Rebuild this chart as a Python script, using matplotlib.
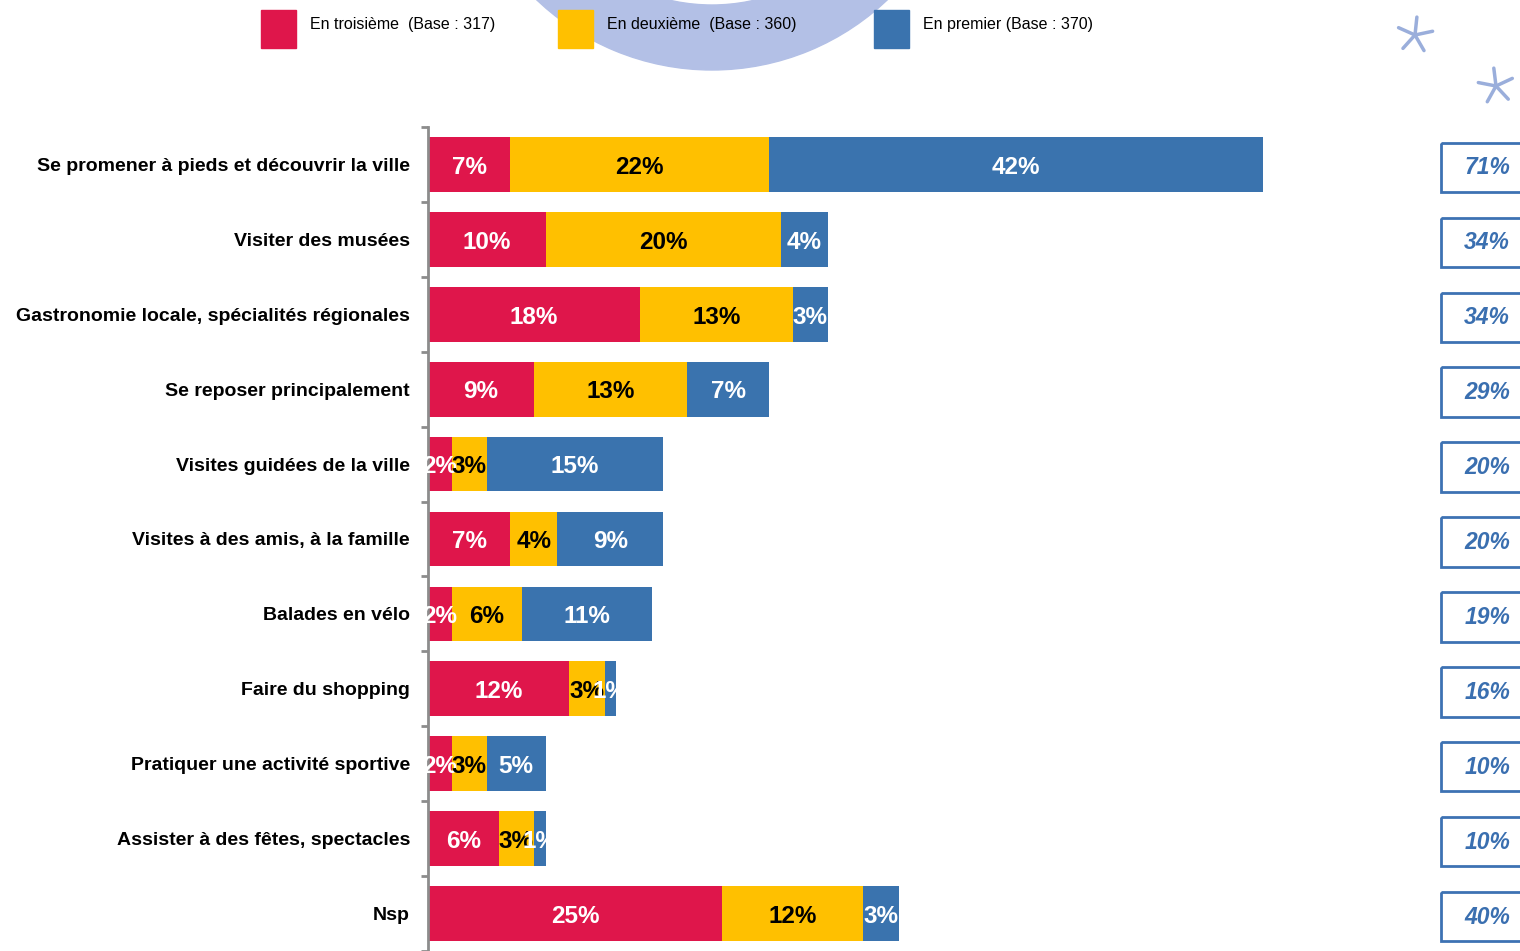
import matplotlib.pyplot as plt
import numpy as np
from matplotlib.patches import Rectangle, Wedge
from matplotlib.transforms import blended_transform_factory

plt.rcParams['font.family'] = ['Liberation Sans', 'DejaVu Sans']

categories = [
    'Se promener à pieds et découvrir la ville',
    'Visiter des musées',
    'Gastronomie locale, spécialités régionales',
    'Se reposer principalement',
    'Visites guidées de la ville',
    'Visites à des amis, à la famille',
    'Balades en vélo',
    'Faire du shopping',
    'Pratiquer une activité sportive',
    'Assister à des fêtes, spectacles',
    'Nsp',
]
troisieme = [7, 10, 18, 9, 2, 7, 2, 12, 2, 6, 25]
deuxieme = [22, 20, 13, 13, 3, 4, 6, 3, 3, 3, 12]
premier = [42, 4, 3, 7, 15, 9, 11, 1, 5, 1, 3]
totals = [71, 34, 34, 29, 20, 20, 19, 16, 10, 10, 40]
series_labels = ['En troisième  (Base : 317)', 'En deuxième  (Base : 360)', 'En premier (Base : 370)']

colors = ['#DF164B', '#FFC000', '#3A73AE']
text_colors = ['white', 'black', 'white']
W, H = 1520, 951

fig = plt.figure(figsize=(W / 100, H / 100), dpi=100)

# background layer in pixel units (logo ring, stars, legend)
bg = fig.add_axes([0, 0, 1, 1], zorder=0)
bg.set_xlim(0, W)
bg.set_ylim(H, 0)
bg.axis('off')
bg.add_patch(Wedge((712, -184), 254, 0, 360, width=65, color='#B3C0E6', zorder=0))
for cx, cy, rot in [(1415, 35, 12), (1496, 86, 25)]:
    for k in range(5):
        a = np.radians(rot + 72 * k)
        bg.plot([cx, cx + 18 * np.cos(a)], [cy, cy - 18 * np.sin(a)],
                color='#9AAEDB', lw=2.5, solid_capstyle='round', zorder=1)

for x, lab, c in zip([261, 558, 874], series_labels, colors):
    bg.add_patch(Rectangle((x, 10), 35, 38, color=c, zorder=3))
    bg.text(x + 49, 24.5, lab, fontsize=11.5, va='center', zorder=3)

# main chart
ax = fig.add_axes([428 / W, 0, 1 - 428 / W, 1 - 127 / H], zorder=1)
ax.patch.set_alpha(0)
y = np.arange(len(categories))
left = np.zeros(len(categories))
for k, (vals, c, tc) in enumerate(zip([troisieme, deuxieme, premier], colors, text_colors)):
    ax.barh(y, vals, left=left, height=0.73, color=c, zorder=2)
    for i, v in enumerate(vals):
        ax.annotate(f'{v}%', (left[i] + v / 2, i), xytext=(0, -2), textcoords='offset points',
                    ha='center', va='center', color=tc, fontsize=17.5, fontweight='bold',
                    zorder=3 + k)
    left += np.array(vals)

ax.set_xlim(0, 92.8)
ax.set_ylim((H - 127.3) / 75.4 - 0.5, -0.5)
ax.set_xticks([])
for s in ['top', 'right', 'bottom']:
    ax.spines[s].set_visible(False)
ax.spines['left'].set_color('#8C8C8C')
ax.spines['left'].set_linewidth(2)
ax.set_yticks(y)
ax.set_yticklabels(categories, fontsize=14, fontweight='bold')
ax.tick_params(axis='y', which='major', length=0, pad=13)
ax.set_yticks(np.arange(-0.5, len(categories), 1), minor=True)
ax.tick_params(axis='y', which='minor', length=5, width=2, color='#8C8C8C')

# totals boxes on the right
tr = blended_transform_factory(ax.transAxes, ax.transData)
for i, t in enumerate(totals):
    ax.add_patch(Rectangle((0.928, i - 0.29), 0.1, 0.66, transform=tr, fill=False,
                           edgecolor='#3D72B3', lw=2, clip_on=False))
    ax.annotate(f'{t}%', (0.970, i), xycoords=tr, xytext=(0, -2.5), textcoords='offset points',
                ha='center', va='center', fontsize=16.5, fontweight='bold', style='italic',
                color='#3A6FB0')

fig.savefig('out.png', dpi=100)
